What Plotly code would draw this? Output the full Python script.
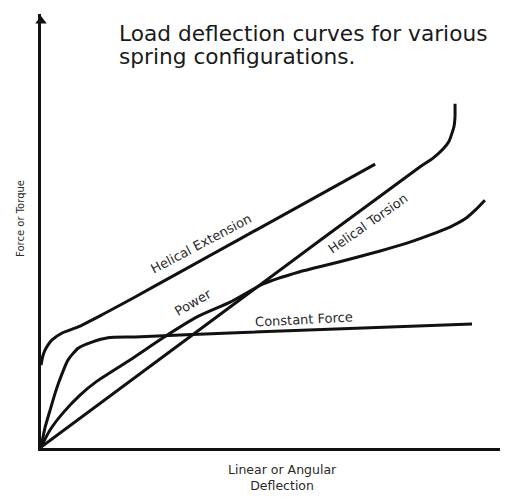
import plotly.graph_objects as go

# Data (deflection units 0-10, force units 0-10)
ext_x = [0, 0.04, 0.09, 0.15, 0.24, 0.46, 0.81, 1.33, 2.05, 2.92, 5.64, 7.28]
ext_y = [1.91, 2.12, 2.26, 2.37, 2.49, 2.65, 2.79, 3.07, 3.48, 3.99, 5.58, 6.54]

const_x = [0, 0.09, 0.20, 0.31, 0.39, 0.59, 0.81, 1.11, 1.46, 2.05, 4.12, 9.39]
const_y = [0.02, 0.48, 0.88, 1.27, 1.52, 2.03, 2.30, 2.44, 2.54, 2.56, 2.65, 2.86]

power_x = [0, 0.20, 0.48, 0.85, 1.22, 1.94, 2.66, 3.40, 4.12, 4.84, 5.64, 6.51,
           7.39, 7.97, 8.48, 8.91, 9.24, 9.46, 9.67]
power_y = [0.02, 0.42, 0.81, 1.22, 1.54, 2.03, 2.54, 3.02, 3.36, 3.78, 4.06, 4.29,
           4.54, 4.72, 4.91, 5.09, 5.28, 5.48, 5.71]

tors_x = [0, 4.12, 8.26, 8.54, 8.76, 8.89, 8.95, 9.00, 9.02, 9.02]
tors_y = [0.02, 3.25, 6.48, 6.68, 6.89, 7.07, 7.24, 7.42, 7.65, 7.93]

series = [
    ("Helical Extension", ext_x, ext_y),
    ("Constant Force", const_x, const_y),
    ("Power", power_x, power_y),
    ("Helical Torsion", tors_x, tors_y),
]

# label positions (data units) and angles
labels = [
    ("Helical Extension", 3.49, 4.72, -28),
    ("Helical Torsion", 7.12, 5.18, -35),
    ("Power", 3.31, 3.36, -30),
    ("Constant Force", 5.73, 2.97, -3),
]

title_lines = ["Load deflection curves for various", "spring configurations."]
y_title = "Force or Torque"
x_title = "Linear or Angular<br>Deflection"

FONT = "DejaVu Sans, sans-serif"

fig = go.Figure()
for name, xs, ys in series:
    fig.add_trace(go.Scatter(
        x=xs, y=ys, mode="lines", name=name,
        line=dict(color="#111111", width=3, shape="spline", smoothing=0.6),
        hoverinfo="skip", showlegend=False,
    ))

# arrowhead on y axis
fig.add_trace(go.Scatter(
    x=[0], y=[9.84], mode="markers",
    marker=dict(symbol="triangle-up", size=10, color="#111111"),
    cliponaxis=False, showlegend=False, hoverinfo="skip",
))

annotations = []
for text, x, y, ang in labels:
    annotations.append(dict(
        text=text, x=x, y=y, xref="x", yref="y", showarrow=False,
        textangle=ang, font=dict(family=FONT, size=13, color="#2a2a2a"),
    ))

for line, ypos in zip(title_lines, [0.956, 0.901]):
    annotations.append(dict(
        text=line, x=0.1656, y=ypos, xref="paper", yref="paper",
        xanchor="left", yanchor="middle", align="left", showarrow=False,
        font=dict(family=FONT, size=21.7, color="#1a1a1a"),
    ))
annotations.append(dict(
    text=y_title, x=-0.0436, y=0.53, xref="paper", yref="paper",
    xanchor="center", yanchor="middle",
    textangle=-90, showarrow=False,
    font=dict(family=FONT, size=10, color="#2a2a2a"),
))
annotations.append(dict(
    text=x_title, x=0.527, y=-0.069, xref="paper", yref="paper",
    xanchor="center", yanchor="middle", showarrow=False,
    font=dict(family=FONT, size=12.5, color="#2a2a2a"),
))

axis_common = dict(
    showgrid=False, zeroline=False, showticklabels=False, ticks="",
    showline=True, linecolor="#111111", linewidth=3,
)

fig.update_layout(
    width=522, height=504,
    margin=dict(l=41, r=22, t=14, b=56),
    paper_bgcolor="white", plot_bgcolor="white",
    xaxis=dict(range=[0, 10], **axis_common),
    yaxis=dict(range=[0, 10], **axis_common),
    annotations=annotations,
)

fig.write_html("out.html", config={"displayModeBar": False},
               post_script="document.body.style.margin='0px';")
